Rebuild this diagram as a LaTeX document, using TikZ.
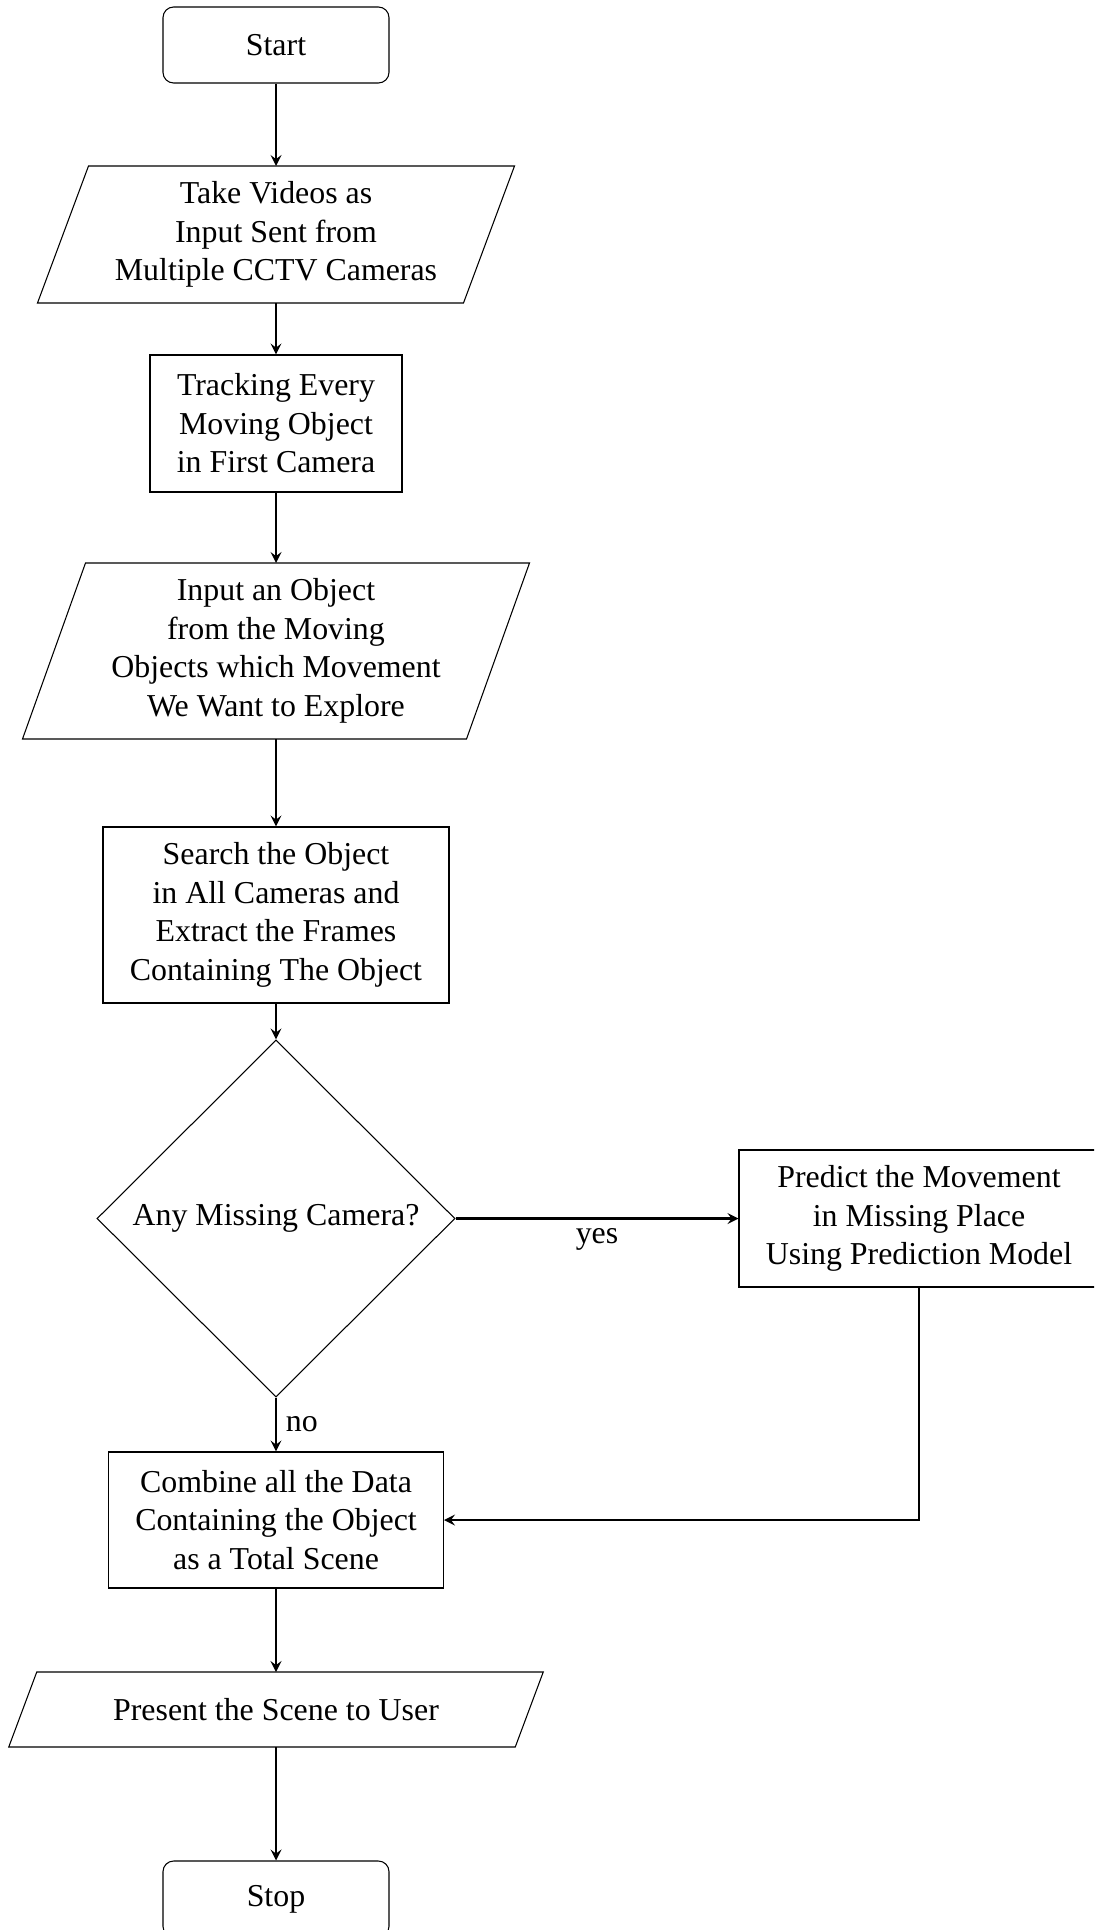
\documentclass[tikz,border=0pt]{standalone}
\usepackage{fontspec}
\setmainfont{Liberation Serif}
\usetikzlibrary{shapes.geometric,calc,arrows}
\newcommand\pxu{0.3765pt}
\begin{document}
\begin{tikzpicture}[x=0.3765pt,y=-0.3765pt,
  font=\fontsize{12}{14.5}\selectfont,
  base/.style={align=center, inner sep=3pt},
  startstop/.style={base, draw=black, thin, rectangle, rounded corners=4pt, minimum width=226*\pxu, minimum height=76*\pxu},
  process/.style={base, draw=black, thin, rectangle},
  iobox/.style={base, rectangle, outer sep=0pt},
  decision/.style={base, draw=black, thin, diamond, aspect=1},
  paraline/.style={draw=black, thin},
  arrow/.style={thick,->,>=stealth}]
\useasboundingbox (0,0) rectangle (1094,1930);
\clip (0,0) rectangle (1094,1930);

\node[startstop] (start) at (276,45) {Start};

\node[iobox, minimum width=426*\pxu, minimum height=137*\pxu] (in1) at (276,234.5)
  {Take Videos as\\Input Sent from\\Multiple CCTV Cameras};
\draw[paraline] ($(in1.north west)+(25.5,0)$) -- ($(in1.north east)+(25.5,0)$)
  -- ($(in1.south east)+(-25.5,0)$) -- ($(in1.south west)+(-25.5,0)$) -- cycle;

\node[process, minimum width=252*\pxu, minimum height=137*\pxu] (track) at (276,423.5)
  {Tracking Every\\Moving Object\\in First Camera};

\node[iobox, minimum width=444*\pxu, minimum height=176*\pxu] (in2) at (276,651)
  {Input an Object\\from the Moving\\Objects which Movement\\We Want to Explore};
\draw[paraline] ($(in2.north west)+(31.5,0)$) -- ($(in2.north east)+(31.5,0)$)
  -- ($(in2.south east)+(-31.5,0)$) -- ($(in2.south west)+(-31.5,0)$) -- cycle;

\node[process, minimum width=346*\pxu, minimum height=176*\pxu] (search) at (276,915)
  {Search the Object\\in All Cameras and\\Extract the Frames\\Containing The Object};

\node[decision, minimum width=358*\pxu, minimum height=357*\pxu] (dec) at (276,1218.5)
  {Any Missing Camera?};

\node[process, minimum width=360*\pxu, minimum height=137*\pxu] (pred) at (919,1218.5)
  {Predict the Movement\\in Missing Place\\Using Prediction Model};

\node[process, minimum width=335*\pxu, minimum height=136*\pxu] (comb) at (276,1520)
  {Combine all the Data\\Containing the Object\\as a Total Scene};

\node[iobox, minimum width=506.5*\pxu, minimum height=75*\pxu] (out) at (276,1709.5)
  {Present the Scene to User};
\draw[paraline] ($(out.north west)+(14,0)$) -- ($(out.north east)+(14,0)$)
  -- ($(out.south east)+(-14,0)$) -- ($(out.south west)+(-14,0)$) -- cycle;

\node[startstop] (stop) at (276,1899) {Stop};

\draw[arrow] (start) -- (in1);
\draw[arrow] (in1) -- (track);
\draw[arrow] (track) -- (in2);
\draw[arrow] (in2) -- (search);
\draw[arrow] (search) -- (dec);
\draw[arrow] (dec.east) -- node[below]{yes} (pred.west);
\draw[arrow] (dec.south) -- node[right]{no} (comb.north);
\draw[arrow] (pred.south) |- (comb.east);
\draw[arrow] (comb) -- (out);
\draw[arrow] (out) -- (stop);
\end{tikzpicture}
\end{document}
